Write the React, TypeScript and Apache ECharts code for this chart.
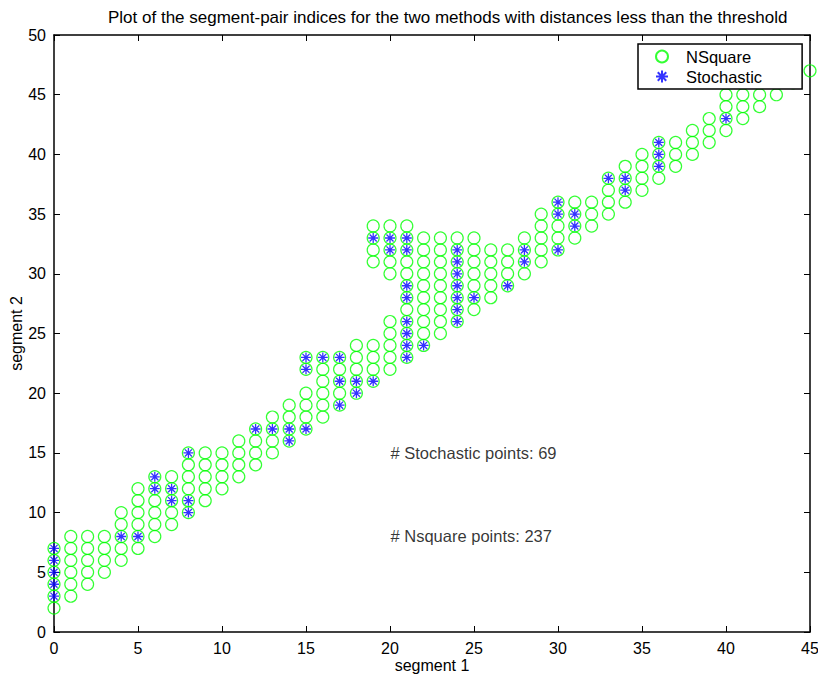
import React, { useEffect, useRef } from 'react';
import * as echarts from 'echarts';

const titleText =
  'Plot of the segment-pair indices for the two methods with distances less than the threshold';
const xAxisName = 'segment 1';
const yAxisName = 'segment 2';
const seriesNames = ['NSquare', 'Stochastic'];
const annotationTexts = ['# Stochastic points: 69', '# Nsquare points: 237'];
const annotationPositions = [
  [20, 15],
  [20, 8],
];

// NSquare: for each segment-1 index (0..45), the segment-2 indices found
const nsquareColumns: number[][] = [
  [2, 3, 4, 5, 6, 7],
  [3, 4, 5, 6, 7, 8],
  [4, 5, 6, 7, 8],
  [5, 6, 7, 8],
  [6, 7, 8, 9, 10],
  [7, 8, 9, 10, 11, 12],
  [8, 9, 10, 11, 12, 13],
  [9, 10, 11, 12, 13],
  [10, 11, 12, 13, 14, 15],
  [11, 12, 13, 14, 15],
  [12, 13, 14, 15],
  [13, 14, 15, 16],
  [14, 15, 16, 17],
  [15, 16, 17, 18],
  [16, 17, 18, 19],
  [17, 18, 19, 20, 22, 23],
  [18, 19, 20, 21, 22, 23],
  [19, 20, 21, 22, 23],
  [20, 21, 22, 23, 24],
  [21, 22, 23, 24, 31, 32, 33, 34],
  [22, 23, 24, 25, 26, 30, 31, 32, 33, 34],
  [23, 24, 25, 26, 27, 28, 29, 30, 31, 32, 33, 34],
  [24, 25, 26, 27, 28, 29, 30, 31, 32, 33],
  [25, 26, 27, 28, 29, 30, 31, 32, 33],
  [26, 27, 28, 29, 30, 31, 32, 33],
  [27, 28, 29, 30, 31, 32, 33],
  [28, 29, 30, 31, 32],
  [29, 30, 31, 32],
  [30, 31, 32, 33],
  [31, 32, 33, 34, 35],
  [32, 33, 34, 35, 36],
  [33, 34, 35, 36],
  [34, 35, 36],
  [35, 36, 37, 38],
  [36, 37, 38, 39],
  [37, 38, 39, 40],
  [38, 39, 40, 41],
  [39, 40, 41],
  [40, 41, 42],
  [41, 42, 43],
  [42, 43, 44, 45, 46],
  [43, 44, 45, 46],
  [44, 45, 46],
  [45, 46],
  [46],
  [47],
];

// Stochastic: [segment 1, segment 2]
const stochasticPoints: number[][] = [
  [0, 3], [0, 4], [0, 5], [0, 6], [0, 7],
  [4, 8], [5, 8], [6, 12], [6, 13], [7, 11], [7, 12],
  [8, 10], [8, 11], [8, 15],
  [12, 17], [13, 17], [14, 16], [14, 17],
  [15, 17], [15, 22], [15, 23], [16, 23],
  [17, 19], [17, 21], [17, 23], [18, 20], [18, 21],
  [19, 21], [19, 33], [20, 32], [20, 33],
  [21, 23], [21, 24], [21, 25], [21, 26], [21, 28], [21, 29], [21, 32], [21, 33],
  [22, 24],
  [24, 26], [24, 27], [24, 28], [24, 29], [24, 30], [24, 31], [24, 32],
  [25, 28], [27, 29], [28, 31], [28, 32],
  [30, 32], [30, 35], [30, 36], [31, 34], [31, 35],
  [33, 38], [34, 37], [34, 38],
  [36, 39], [36, 40], [36, 41],
  [40, 43], [43, 46],
];

const xMin = 0;
const xMax = 45;
const yMin = 0;
const yMax = 50;
const tickStep = 5;

const FONT = '"Liberation Sans", Arial, Helvetica, sans-serif';
const STAR =
  'path://M5 0L5 10M0 5L10 5M1.46 1.46L8.54 8.54M1.46 8.54L8.54 1.46';

export default function App() {
  const ref = useRef<HTMLDivElement>(null);

  useEffect(() => {
    document.documentElement.style.overflow = 'hidden';
    document.body.style.margin = '0';
    document.body.style.overflow = 'hidden';
    if (!ref.current) return;
    const chart = echarts.init(ref.current, null, { renderer: 'svg', width: 818, height: 677 });

    const nsquareData: number[][] = [];
    nsquareColumns.forEach((ys, x) => ys.forEach((y) => nsquareData.push([x, y])));

    const axisLine = { show: true, onZero: false, lineStyle: { color: '#000', width: 1.5 } };
    const axisTick = { show: true, inside: true, length: 6, lineStyle: { color: '#000', width: 1 } };
    const labelStyle = { color: '#000', fontSize: 16, fontFamily: FONT };

    chart.setOption({
      animation: false,
      backgroundColor: '#fff',
      title: {
        text: titleText,
        left: 108,
        top: 9,
        padding: 0,
        textStyle: { color: '#000', fontSize: 17, fontWeight: 'normal', fontFamily: FONT },
      },
      grid: {
        left: 54,
        right: 8,
        top: 35,
        bottom: 45,
        containLabel: false,
        outerBoundsMode: 'none',
      },
      legend: {
        orient: 'vertical',
        left: 638,
        top: 44,
        padding: [4, 40, 4, 17],
        itemGap: 3,
        itemWidth: 12,
        itemHeight: 12,
        backgroundColor: '#fff',
        borderColor: '#000',
        borderWidth: 1.5,
        z: 10,
        data: [
          { name: seriesNames[0], icon: 'circle' },
          { name: seriesNames[1], icon: STAR },
        ],
        textStyle: {
          color: '#000',
          fontSize: 16.5,
          fontFamily: FONT,
          lineHeight: 16,
          padding: [0, 0, 0, 13],
        },
      },
      xAxis: [
        {
          type: 'value',
          min: xMin,
          max: xMax,
          interval: tickStep,
          position: 'bottom',
          axisLine,
          axisTick,
          splitLine: { show: false },
          axisLabel: { ...labelStyle, margin: 8 },
          name: xAxisName,
          nameLocation: 'middle',
          nameGap: 25,
          nameMoveOverlap: false,
          nameTextStyle: labelStyle,
        },
        {
          type: 'value',
          min: xMin,
          max: xMax,
          interval: tickStep,
          position: 'top',
          axisLine,
          axisTick,
          splitLine: { show: false },
          axisLabel: { show: false },
        },
      ],
      yAxis: [
        {
          type: 'value',
          min: yMin,
          max: yMax,
          interval: tickStep,
          position: 'left',
          axisLine,
          axisTick,
          splitLine: { show: false },
          axisLabel: { ...labelStyle, margin: 8 },
          name: yAxisName,
          nameLocation: 'middle',
          nameGap: 30,
          nameMoveOverlap: false,
          nameTextStyle: labelStyle,
        },
        {
          type: 'value',
          min: yMin,
          max: yMax,
          interval: tickStep,
          position: 'right',
          axisLine,
          axisTick,
          splitLine: { show: false },
          axisLabel: { show: false },
        },
      ],
      series: [
        {
          name: seriesNames[0],
          type: 'scatter',
          xAxisIndex: 0,
          yAxisIndex: 0,
          symbol: 'circle',
          symbolSize: 12,
          itemStyle: { color: 'transparent', borderColor: '#00ff00', borderWidth: 1.2 },
          data: nsquareData,
          z: 2,
        },
        {
          name: seriesNames[1],
          type: 'scatter',
          xAxisIndex: 0,
          yAxisIndex: 0,
          symbol: STAR,
          symbolSize: 10,
          itemStyle: { color: 'transparent', borderColor: '#0000ff', borderWidth: 1.3 },
          data: stochasticPoints,
          z: 3,
        },
        {
          name: 'annotations',
          type: 'scatter',
          xAxisIndex: 0,
          yAxisIndex: 0,
          symbolSize: 1,
          silent: true,
          itemStyle: { color: 'transparent' },
          data: annotationPositions.map((p, i) => ({ value: p, text: annotationTexts[i] })),
          label: {
            show: true,
            position: 'right',
            distance: 0,
            color: '#000',
            fontSize: 16.5,
            fontFamily: FONT,
            formatter: (p: any) => p.data.text,
          },
          z: 4,
        },
      ],
    });

    return () => chart.dispose();
  }, []);

  return (
    <div
      ref={ref}
      style={{ position: 'fixed', left: 0, top: 0, width: 818, height: 677 }}
    />
  );
}
